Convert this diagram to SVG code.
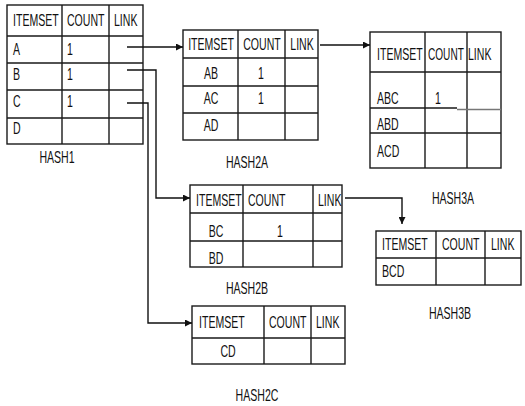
<svg xmlns="http://www.w3.org/2000/svg" width="525" height="406" viewBox="0 0 525 406">
  <style>
    .bg { fill: #ffffff; }
    .grid { fill: none; stroke: #1a1a1a; stroke-width: 1.4; }
    .t { font-family: "Liberation Sans", Arial, sans-serif; font-size: 16px; fill: #111; }
    .c { text-anchor: middle; }
    .wire { fill: none; stroke: #111; stroke-width: 1.4; }
  </style>
  <defs>
    <marker id="arrow" viewBox="0 0 10 10" refX="10" refY="5" markerWidth="7" markerHeight="7" markerUnits="userSpaceOnUse" orient="auto">
      <path d="M0,0 L10,5 L0,10 z" fill="#111"/>
    </marker>
  </defs>
  <rect class="bg" x="0" y="0" width="525" height="406"/>

  <!-- HASH1 (texts use a condensed horizontal scale) -->
  <g id="hash1">
    <rect class="grid" x="7" y="5" width="136" height="139"/>
    <path class="grid" d="M62,5 V144 M109,5 V144 M7,36 H143 M7,63 H143 M7,90 H143 M7,118 H143"/>
    <text class="t" transform="translate(13,26) scale(0.66,1)">ITEMSET</text>
    <text class="t" transform="translate(67,26) scale(0.66,1)">COUNT</text>
    <text class="t" transform="translate(114,26) scale(0.66,1)">LINK</text>
    <text class="t" transform="translate(13,55) scale(0.66,1)">A</text>
    <text class="t" transform="translate(67,55) scale(0.66,1)">1</text>
    <text class="t" transform="translate(13,80) scale(0.66,1)">B</text>
    <text class="t" transform="translate(67,80) scale(0.66,1)">1</text>
    <text class="t" transform="translate(13,107) scale(0.66,1)">C</text>
    <text class="t" transform="translate(67,107) scale(0.66,1)">1</text>
    <text class="t" transform="translate(13,134) scale(0.66,1)">D</text>
    <text class="t c" transform="translate(57,163) scale(0.66,1)">HASH1</text>
  </g>

  <!-- HASH2A -->
  <g id="hash2a">
    <rect class="grid" x="183" y="30" width="135" height="110"/>
    <path class="grid" d="M238,30 V140 M285,30 V140 M183,58 H318 M183,86 H318 M183,113 H318"/>
    <text class="t c" transform="translate(211,50) scale(0.66,1)">ITEMSET</text>
    <text class="t c" transform="translate(262,50) scale(0.66,1)">COUNT</text>
    <text class="t c" transform="translate(302,50) scale(0.66,1)">LINK</text>
    <text class="t c" transform="translate(211,79) scale(0.66,1)">AB</text>
    <text class="t c" transform="translate(261,79) scale(0.66,1)">1</text>
    <text class="t c" transform="translate(211,104) scale(0.66,1)">AC</text>
    <text class="t c" transform="translate(261,104) scale(0.66,1)">1</text>
    <text class="t c" transform="translate(211,131) scale(0.66,1)">AD</text>
    <text class="t c" transform="translate(247,168) scale(0.66,1)">HASH2A</text>
  </g>

  <!-- HASH3A -->
  <g id="hash3a">
    <rect class="grid" x="370" y="32" width="131" height="136"/>
    <path class="grid" d="M425,32 V168 M467,32 V168 M370,72 H501 M370,133 H501 M370,108 H457"/>
    <path d="M457,109.5 H501" stroke="#777" stroke-width="1.4" fill="none"/>
    <text class="t" transform="translate(377,60) scale(0.66,1)">ITEMSET</text>
    <text class="t" transform="translate(428,60) scale(0.63,1)">COUNT</text>
    <text class="t" transform="translate(468,60) scale(0.66,1)">LINK</text>
    <text class="t" transform="translate(377,104) scale(0.66,1)">ABC</text>
    <text class="t" transform="translate(435,104) scale(0.66,1)">1</text>
    <text class="t" transform="translate(377,130) scale(0.66,1)">ABD</text>
    <text class="t" transform="translate(377,157) scale(0.66,1)">ACD</text>
    <text class="t c" transform="translate(453,204) scale(0.66,1)">HASH3A</text>
  </g>

  <!-- HASH2B -->
  <g id="hash2b">
    <rect class="grid" x="190" y="185" width="152" height="82"/>
    <path class="grid" d="M243,185 V267 M313,185 V267 M190,213 H342 M190,241 H342"/>
    <text class="t" transform="translate(196,206) scale(0.66,1)">ITEMSET</text>
    <text class="t" transform="translate(248,206) scale(0.66,1)">COUNT</text>
    <text class="t" transform="translate(318,206) scale(0.66,1)">LINK</text>
    <text class="t c" transform="translate(216,237) scale(0.66,1)">BC</text>
    <text class="t c" transform="translate(280,237) scale(0.66,1)">1</text>
    <text class="t c" transform="translate(216,264) scale(0.66,1)">BD</text>
    <text class="t c" transform="translate(247,294) scale(0.66,1)">HASH2B</text>
  </g>

  <!-- HASH3B -->
  <g id="hash3b">
    <rect class="grid" x="376" y="231" width="145" height="54"/>
    <path class="grid" d="M436,231 V285 M485,231 V285 M376,258 H521"/>
    <text class="t" transform="translate(382,250) scale(0.66,1)">ITEMSET</text>
    <text class="t" transform="translate(442,250) scale(0.66,1)">COUNT</text>
    <text class="t" transform="translate(491,250) scale(0.66,1)">LINK</text>
    <text class="t" transform="translate(382,277) scale(0.66,1)">BCD</text>
    <text class="t c" transform="translate(450,319) scale(0.66,1)">HASH3B</text>
  </g>

  <!-- HASH2C -->
  <g id="hash2c">
    <rect class="grid" x="192" y="306" width="153" height="58"/>
    <path class="grid" d="M264,306 V364 M311,306 V364 M192,338 H345"/>
    <text class="t" transform="translate(199,328) scale(0.66,1)">ITEMSET</text>
    <text class="t" transform="translate(269,328) scale(0.66,1)">COUNT</text>
    <text class="t" transform="translate(316,328) scale(0.66,1)">LINK</text>
    <text class="t c" transform="translate(228,357) scale(0.66,1)">CD</text>
    <text class="t c" transform="translate(257,401) scale(0.66,1)">HASH2C</text>
  </g>

  <!-- Links between hash tables -->
  <g id="connectors">
    <path class="wire" d="M127,47 H183" marker-end="url(#arrow)"/>
    <path class="wire" d="M127,70 H156 V198 H190" marker-end="url(#arrow)"/>
    <path class="wire" d="M127,103 H148 V323 H192" marker-end="url(#arrow)"/>
    <path class="wire" d="M320,45 H370" marker-end="url(#arrow)"/>
    <path class="wire" d="M345,198 H402 V224" marker-end="url(#arrow)"/>
  </g>
</svg>
